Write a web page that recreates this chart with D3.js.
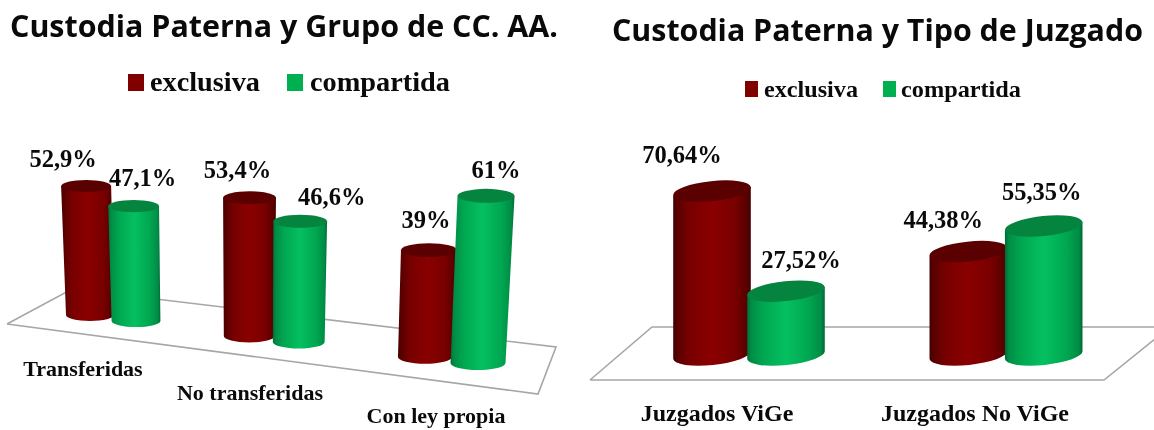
<!DOCTYPE html>
<html><head><meta charset="utf-8">
<script src="https://cdn.jsdelivr.net/npm/d3@7/dist/d3.min.js"></script>
<style>html,body{margin:0;padding:0;background:#fff;overflow:hidden}svg{display:block;filter:blur(0.4px)}</style>
</head><body><svg id="c" width="1154" height="430"></svg>
<script>
// ---- data ----
const seriesNames = ["exclusiva", "compartida"];
const leftTitle = "Custodia Paterna y Grupo de CC. AA.";
const leftCategories = ["Transferidas", "No transferidas", "Con ley propia"];
const leftExclusiva = [52.9, 53.4, 39];
const leftCompartida = [47.1, 46.6, 61];
const rightTitle = "Custodia Paterna y Tipo de Juzgado";
const rightCategories = ["Juzgados ViGe", "Juzgados No ViGe"];
const rightExclusiva = [70.64, 44.38];
const rightCompartida = [27.52, 55.35];

const svg = d3.select("#c");
const defs = svg.append("defs");
function grad(id, stops){
  const g = defs.append("linearGradient").attr("id", id).attr("x1",0).attr("x2",1).attr("y1",0).attr("y2",0);
  g.selectAll("stop").data(stops).join("stop").attr("offset", d=>d[0]).attr("stop-color", d=>d[1]);
}
grad("g0", [[0,"#420000"],[.05,"#580000"],[.2,"#780000"],[.5,"#8a0000"],[.8,"#780000"],[.95,"#580000"],[1,"#420000"]]);
grad("g1", [[0,"#006a34"],[.05,"#008c46"],[.2,"#00a650"],[.5,"#05c060"],[.8,"#00a650"],[.95,"#008c46"],[1,"#006a34"]]);
const topFill = ["#5a0000", "#05843f"];
const swatch = ["#800000", "#00b050"];
const serif = "'Liberation Serif', serif";
const sans = "'Open Sans', sans-serif";
const fmt = v => String(v).replace(".", ",") + "%";

function drawChart(c){
  const g = svg.append("g");
  // title
  g.append("text").attr("x", c.title.x).attr("y", c.title.y).attr("font-family", sans)
    .attr("font-weight", 700).attr("font-size", c.title.size).attr("fill", "#0a0a0a")
    .attr("textLength", c.title.len).attr("lengthAdjust", "spacingAndGlyphs").text(c.titleText);
  // legend
  const lg = g.append("g").selectAll("g").data(seriesNames).join("g");
  lg.append("rect").attr("x",(d,i)=>c.legend.sx[i]).attr("y",c.legend.sy)
    .attr("width",c.legend.sw).attr("height",c.legend.sh).attr("fill",(d,i)=>swatch[i]);
  lg.append("text").attr("x",(d,i)=>c.legend.tx[i]).attr("y",c.legend.ty)
    .attr("font-family",serif).attr("font-weight",700).attr("font-size",c.legend.size).attr("fill","#0a0a0a")
    .attr("textLength",(d,i)=>c.legend.tl[i]).attr("lengthAdjust","spacingAndGlyphs").text(d=>d);
  // floor
  g.append("path").attr("d", d3.line()(c.floor)).attr("fill","#fff").attr("stroke","#a6a6a6").attr("stroke-width",1.6);
  // bars
  const bars = [];
  c.categories.forEach((cat,i)=>{
    c.series.forEach((vals,s)=>{
      const sign = s===0?-1:1;
      const bx = c.groupX(i) + sign*c.offset(i);
      const by = c.baseY(i) + s*c.seriesStep;
      const h = vals[i]*c.unit(i);
      const tx = bx + h*c.lean(bx);
      bars.push({i,s,v:vals[i],bx,by,tx,ty:by-h,rt:c.rTop(bx),rb:c.rBottom(bx),ryT:c.ryTop(bx),ryB:c.ryBottom(bx)});
    });
  });
  const t = c.tilt*Math.PI/180, cs=Math.cos(t), sn=Math.sin(t);
  const bg = g.append("g").selectAll("g").data(bars).join("g");
  bg.append("path").attr("fill",d=>`url(#g${d.s})`).attr("d",d=>
    `M${d.tx-d.rt*cs},${d.ty-d.rt*sn}L${d.bx-d.rb*cs},${d.by-d.rb*sn}`+
    `A${d.rb},${d.ryB} ${c.tilt} 0 0 ${d.bx+d.rb*cs},${d.by+d.rb*sn}`+
    `L${d.tx+d.rt*cs},${d.ty+d.rt*sn}Z`);
  bg.append("ellipse").attr("cx",0).attr("cy",0).attr("rx",d=>d.rt).attr("ry",d=>d.ryT)
    .attr("transform",d=>`translate(${d.tx},${d.ty}) rotate(${c.tilt})`).attr("fill",d=>topFill[d.s]);
  // value labels
  g.append("g").selectAll("text").data(bars).join("text")
    .attr("x",(d,k)=>d.tx+c.nudge[k][0]).attr("y",(d,k)=>d.ty+c.nudge[k][1])
    .attr("text-anchor","middle").attr("font-family",serif).attr("font-weight",700)
    .attr("font-size",c.valueSize).attr("fill","#0a0a0a").text(d=>fmt(d.v));
  // category labels
  g.append("g").selectAll("text").data(c.categories).join("text")
    .attr("x",(d,i)=>c.catPos[i][0]).attr("y",(d,i)=>c.catPos[i][1])
    .attr("text-anchor","middle").attr("font-family",serif).attr("font-weight",700)
    .attr("font-size",c.catSize).attr("fill","#0a0a0a").text(d=>d);
}

drawChart({
  titleText:leftTitle, title:{x:10,y:37,size:30,len:548},
  legend:{sx:[128,287],sy:74,sw:16,sh:17,tx:[150,310],ty:91,size:27,tl:[110,140]},
  floor:[[7,324],[72,289],[556,347],[538,394],[7,324]],
  categories:leftCategories, series:[leftExclusiva,leftCompartida],
  groupX:d3.scaleLinear([0,1,2],[113,274,451.5]),
  offset:d3.scaleLinear([0,2],[23,26.5]),
  baseY:d3.scaleLinear([0,2],[315,357]), seriesStep:6,
  unit:d3.scaleLinear([0,2],[2.44,2.74]),
  lean:d3.scaleLinear([90,478],[-0.03,0.048]),
  rTop:d3.scaleLinear([90,478],[25,28.5]),
  rBottom:d3.scaleLinear([90,478],[24,27.5]),
  ryTop:d3.scaleLinear([90,478],[6,7]),
  ryBottom:d3.scaleLinear([90,478],[6,7]),
  tilt:0,
  nudge:[[-23,-19],[9,-20],[-12,-20],[31.5,-16],[-3,-22],[10,-18]],
  valueSize:24.5,
  catPos:[[83,376],[250,400],[436,423]], catSize:22
});
drawChart({
  titleText:rightTitle, title:{x:612,y:41,size:30,len:531},
  legend:{sx:[745,883],sy:81,sw:13,sh:16,tx:[764,901],ty:97,size:24,tl:[94,120]},
  floor:[[590,380],[652,327],[1170,327],[1104,380],[590,380]],
  categories:rightCategories, series:[rightExclusiva,rightCompartida],
  groupX:d3.scaleLinear([0,1],[749,1006]),
  offset:d3.scaleLinear([0,1],[37,37.7]),
  baseY:d3.scaleLinear([0,1],[355,355]), seriesStep:0,
  unit:d3.scaleLinear([0,1],[2.32,2.33]),
  lean:()=>0,
  rTop:()=>39, rBottom:()=>39, ryTop:()=>10, ryBottom:()=>10,
  tilt:-6,
  nudge:[[-30,-28],[15,-23],[-25,-24],[-2,-26]],
  valueSize:24.5,
  catPos:[[717,421],[975,421]], catSize:24
});
</script></body></html>
